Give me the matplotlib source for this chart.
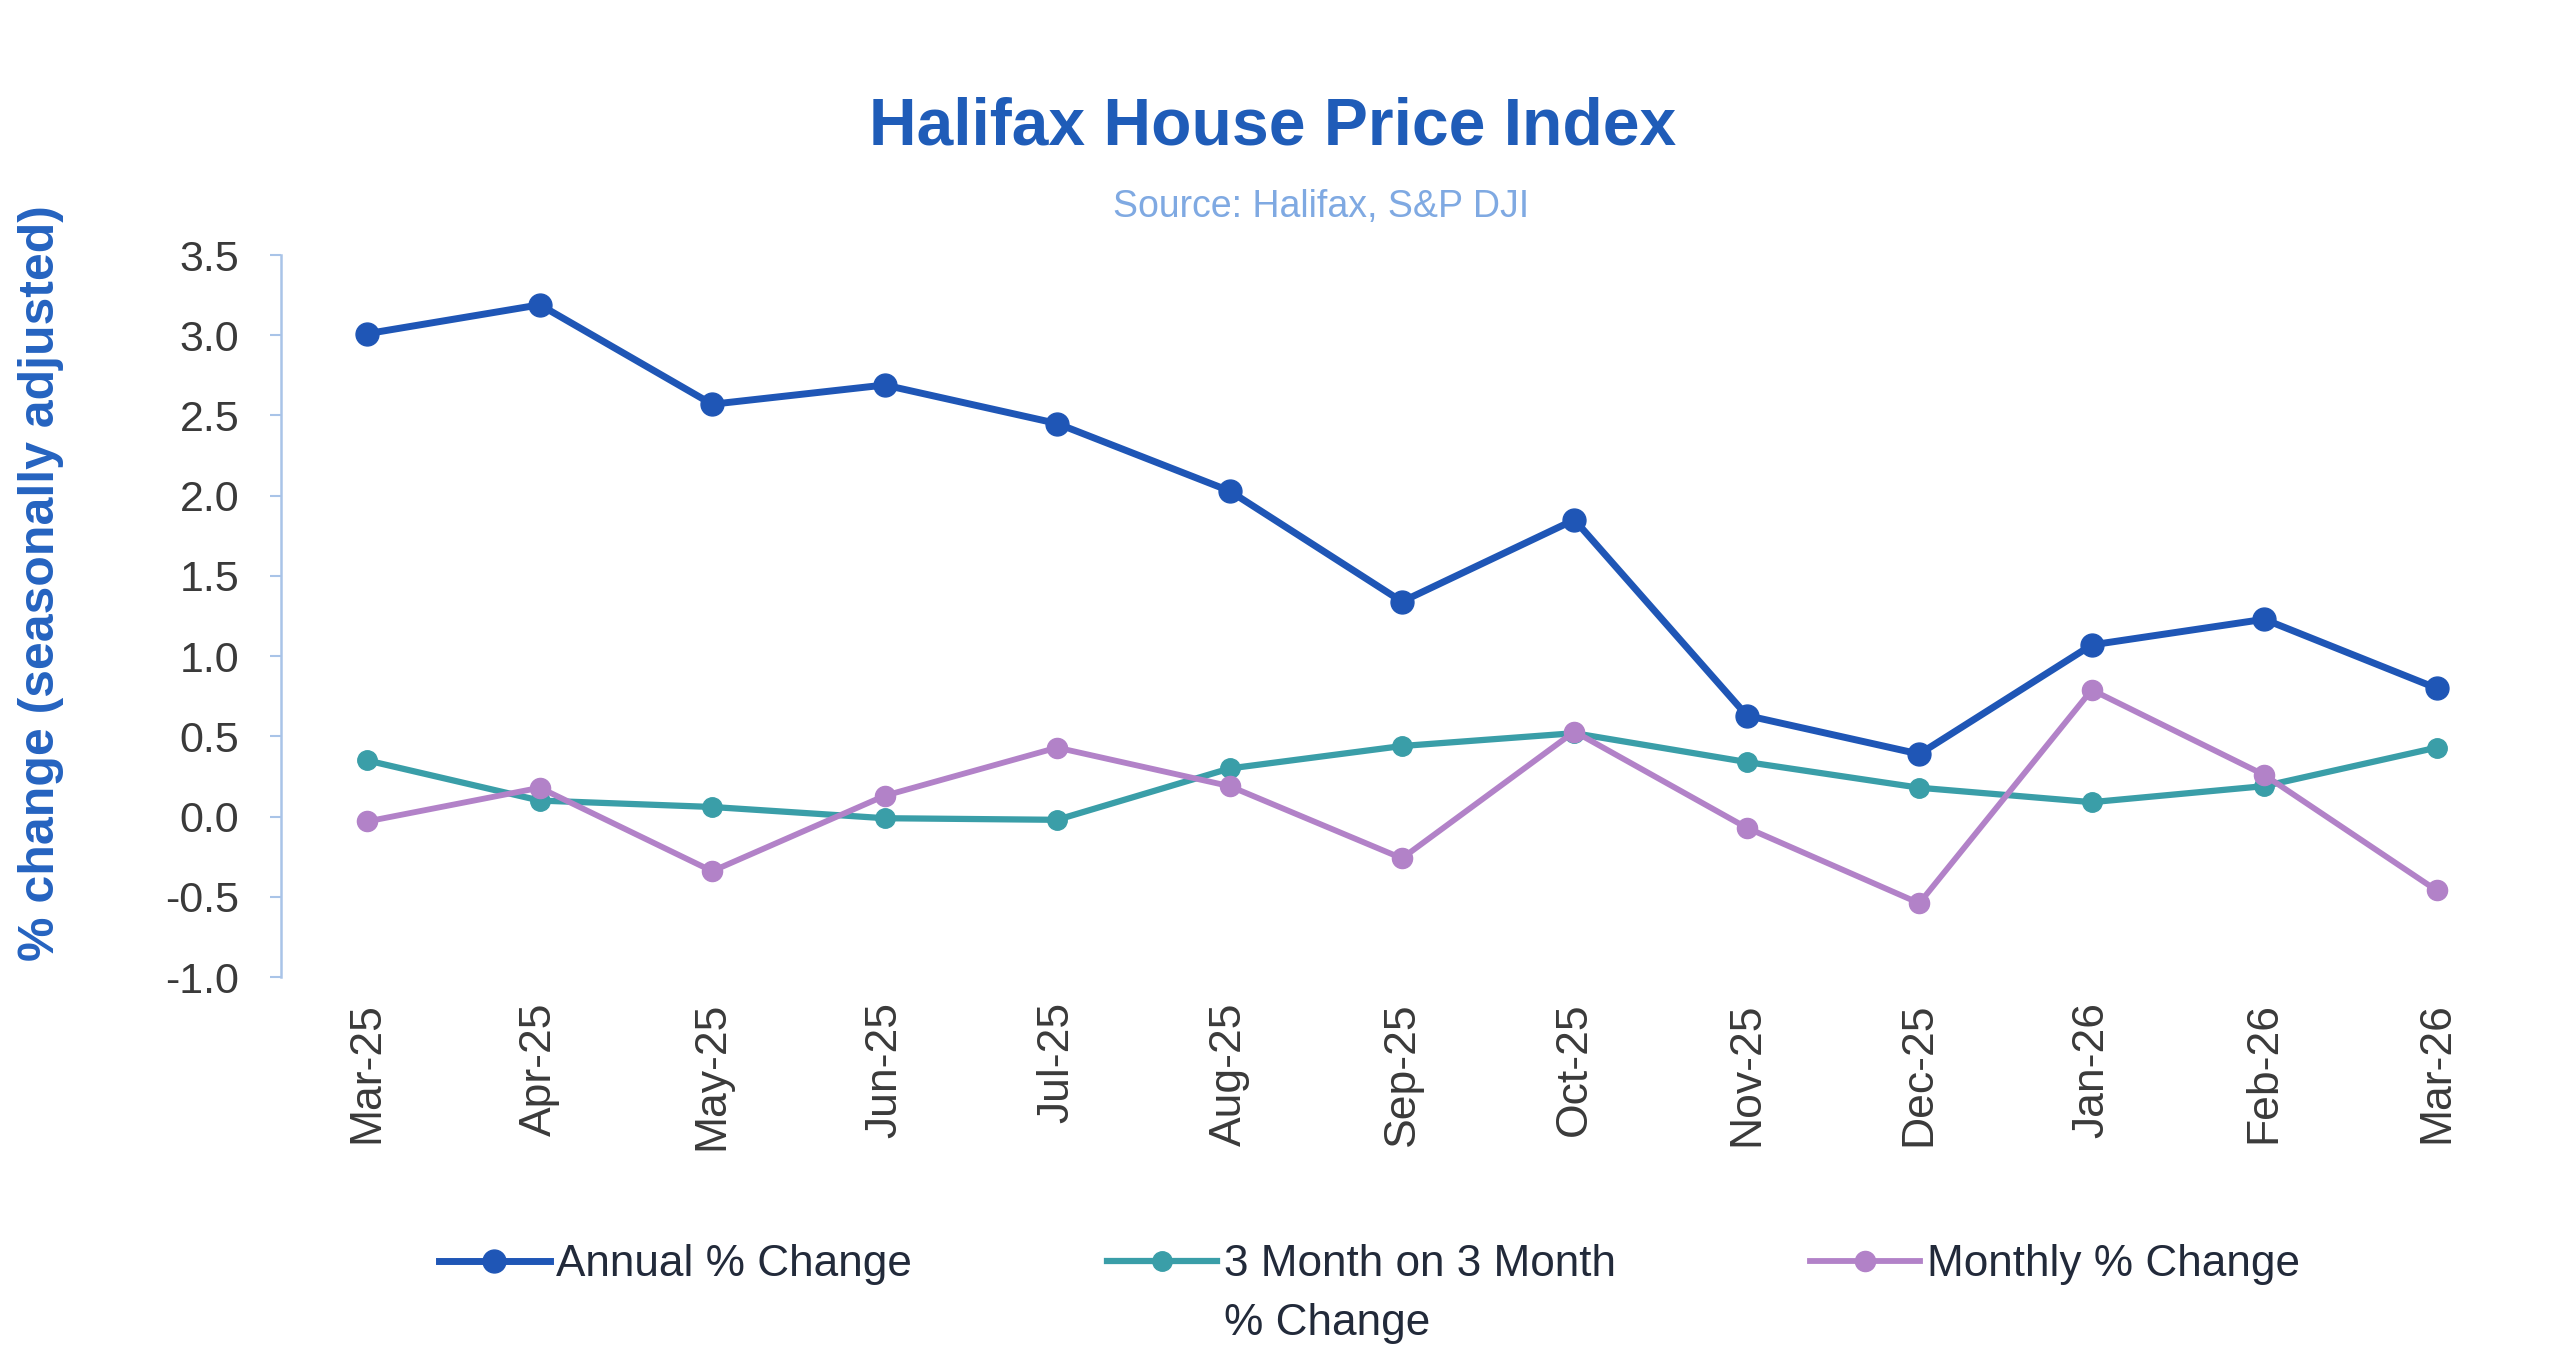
import matplotlib.pyplot as plt
import numpy as np

plt.rcParams['font.family'] = ['Liberation Sans', 'DejaVu Sans']

# Chart data
months = ['Mar-25', 'Apr-25', 'May-25', 'Jun-25', 'Jul-25', 'Aug-25', 'Sep-25',
          'Oct-25', 'Nov-25', 'Dec-25', 'Jan-26', 'Feb-26', 'Mar-26']
annual = [3.01, 3.19, 2.57, 2.69, 2.45, 2.03, 1.34, 1.85, 0.63, 0.39, 1.07, 1.23, 0.80]
three_month = [0.35, 0.10, 0.06, -0.01, -0.02, 0.30, 0.44, 0.52, 0.34, 0.18, 0.09, 0.19, 0.43]
monthly = [-0.03, 0.18, -0.34, 0.13, 0.43, 0.19, -0.26, 0.53, -0.07, -0.54, 0.79, 0.26, -0.46]
y_ticks = [-1.0, -0.5, 0.0, 0.5, 1.0, 1.5, 2.0, 2.5, 3.0, 3.5]

BLUE = '#1f56b6'
TEAL = '#3a9ea8'
LILAC = '#b282c8'
TEXT = '#3a3a3a'

fig = plt.figure(figsize=(25.6, 13.69), dpi=100)
ax = fig.add_axes([0.1098, 0.2863, 0.8757, 0.5274])

x = np.arange(len(months))
ax.plot(x, annual, color=BLUE, lw=5, marker='o', ms=16.5, label='Annual % Change', zorder=3)
ax.plot(x, three_month, color=TEAL, lw=4.5, marker='o', ms=14, label='3 Month on 3 Month', zorder=2)
ax.plot(x, monthly, color=LILAC, lw=4.2, marker='o', ms=14.5, label='Monthly % Change', zorder=2)

ax.set_xlim(-0.5, len(months) - 0.5)
ax.set_ylim(-1.0, 3.5)
ax.set_yticks(y_ticks)
ax.set_yticklabels([f'{v:.1f}' for v in y_ticks])
ax.set_xticks(x)
ax.set_xticklabels(months, rotation=90)

for side in ['top', 'right', 'bottom']:
    ax.spines[side].set_visible(False)
ax.spines['left'].set_color('#a9c4e8')
ax.spines['left'].set_linewidth(1.8)
ax.tick_params(axis='y', colors='#a9c4e8', length=8, width=1.5, labelsize=31, labelcolor=TEXT, pad=22)
ax.tick_params(axis='x', length=0, labelsize=32, labelcolor=TEXT, pad=18)

ax.set_ylabel('% change (seasonally adjusted)', fontsize=36, fontweight='bold', color='#2563c0')
ax.yaxis.set_label_coords(-0.097, 0.545)

fig.text(0.497, 0.907, 'Halifax House Price Index', ha='center', va='center',
         fontsize=47.5, fontweight='bold', color='#1f5cb8')
fig.text(0.516, 0.849, 'Source: Halifax, S&P DJI', ha='center', va='center',
         fontsize=27, color='#7fa9e2')

leg = fig.legend(loc='center', bbox_to_anchor=(0.535, 0.076), ncol=3, frameon=False,
                 fontsize=31.8, handlelength=2.5, handletextpad=0.15, columnspacing=4.4,
                 labelcolor='#222a3a')

# second line of the middle legend label, placed under its first line
fig.canvas.draw()
bb = leg.get_texts()[1].get_window_extent()
fig.text(bb.x0 / fig.bbox.width, (bb.y0 - 38) / fig.bbox.height, '% Change',
         ha='left', va='center', fontsize=31.8, color='#222a3a')

fig.savefig('out.png', dpi=100, facecolor='white')
